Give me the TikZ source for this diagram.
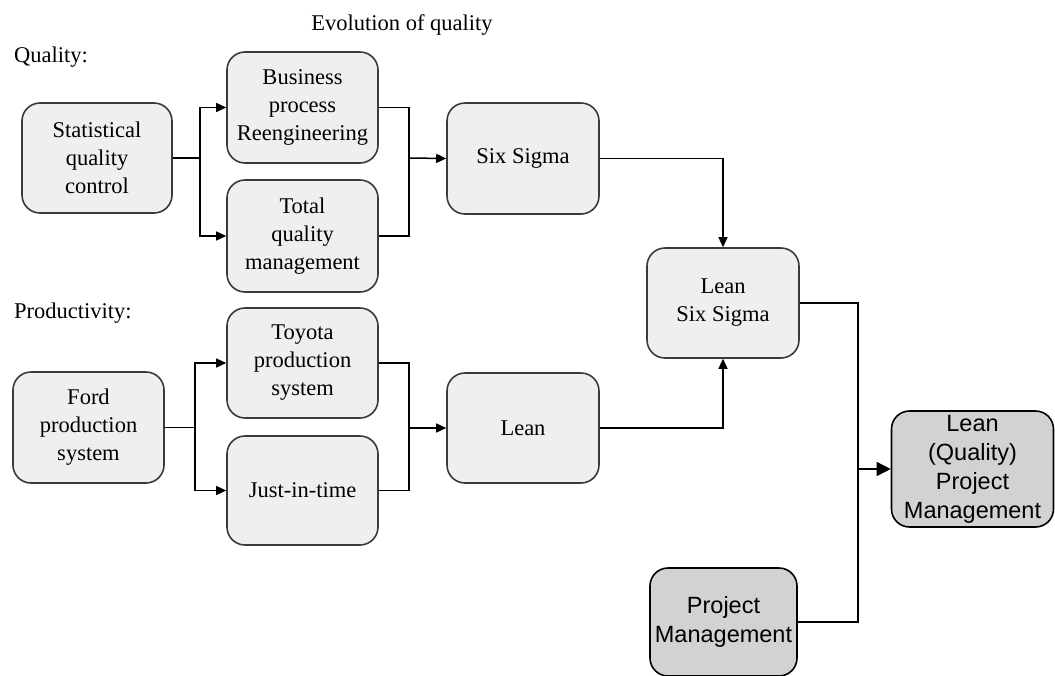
\documentclass[tikz,border=0pt]{standalone}
\usepackage{fontspec}
\setmainfont{Liberation Serif}
\newfontfamily\boxsans{Liberation Sans}
\usetikzlibrary{arrows.meta}
\definecolor{boxfill}{HTML}{EFEFEF}
\definecolor{darkfill}{HTML}{D2D2D2}
\definecolor{boxline}{HTML}{3A3A3A}
\begin{document}
\begin{tikzpicture}[x=1pt,y=-1pt,
  stagebox/.style={draw=boxline, line width=1.6pt, fill=boxfill, rounded corners=18pt,
    inner sep=0pt, align=center, font=\fontsize{22.5}{28}\selectfont},
  pmbox/.style={draw=black, line width=1.6pt, fill=darkfill, rounded corners=18pt,
    inner sep=0pt, align=center, font=\boxsans\fontsize{23.5}{29}\selectfont},
  link/.style={draw=black, line width=1.5pt},
  arr/.style={link, -{Triangle[length=10pt,width=9pt]}},
  bigarr/.style={link, -{Triangle[length=14pt,width=14pt]}},
  heading/.style={font=\fontsize{22.5}{26}\selectfont, inner sep=0pt}]
\useasboundingbox (0,0) rectangle (1055,675);

% headings
\node[heading] (title) at (402,25) {Evolution of quality};
\node[heading, anchor=west] (qlab) at (14,57) {Quality:};
\node[heading, anchor=west] (plab) at (14,313) {Productivity:};

% quality stream
\node[stagebox, minimum width=150pt, minimum height=110pt] (sqc) at (97,158) {Statistical\\quality\\control};
\node[stagebox, minimum width=151pt, minimum height=111pt] (bpr) at (302.5,107.5) {Business\\process\\Reengineering};
\node[stagebox, minimum width=151pt, minimum height=112pt] (tqm) at (302.5,236) {Total\\quality\\management};
\node[stagebox, minimum width=152pt, minimum height=111pt] (six) at (523,158.5) {Six Sigma};

% productivity stream
\node[stagebox, minimum width=151pt, minimum height=111pt] (ford) at (88.5,427.5) {Ford\\production\\system};
\node[stagebox, minimum width=151pt, minimum height=110pt] (tps) at (302.5,363) {Toyota\\production\\system};
\node[stagebox, minimum width=151pt, minimum height=109pt] (jit) at (302.5,490.5) {Just-in-time};
\node[stagebox, minimum width=152pt, minimum height=110pt] (lean) at (523,428) {Lean};

% merged
\node[stagebox, minimum width=152pt, minimum height=110pt] (lss) at (723,303) {Lean\\Six Sigma};
\node[pmbox, minimum width=147pt, minimum height=108pt] (pm) at (723.5,622) {Project\\Management};
\node[pmbox, minimum width=162pt, minimum height=116pt] (lqpm) at (972.5,469) {Lean\\(Quality)\\Project\\Management};

% junction points
\coordinate (jq1) at (200,158);
\coordinate (jq2) at (409,158);
\coordinate (jp1) at (195,427.5);
\coordinate (jp2) at (409,428);
\coordinate (jm) at (858,469);

% quality connectors
\draw[link] (sqc.east) -- (jq1);
\draw[arr] (jq1) |- (bpr.west);
\draw[arr] (jq1) |- (tqm.west);
\draw[link] (bpr.east) -| (jq2) |- (tqm.east);
\draw[arr] (jq2) -- (six.west);
\draw[arr] (six.east) -| (lss.north);

% productivity connectors
\draw[link] (ford.east) -- (jp1);
\draw[arr] (jp1) |- (tps.west);
\draw[arr] (jp1) |- (jit.west);
\draw[link] (tps.east) -| (jp2) |- (jit.east);
\draw[arr] (jp2) -- (lean.west);
\draw[arr] (lean.east) -| (lss.south);

% merge into lean project management
\draw[link] (lss.east) -| (jm) |- (pm.east);
\draw[bigarr] (jm) -- (lqpm.west);
\end{tikzpicture}
\end{document}
